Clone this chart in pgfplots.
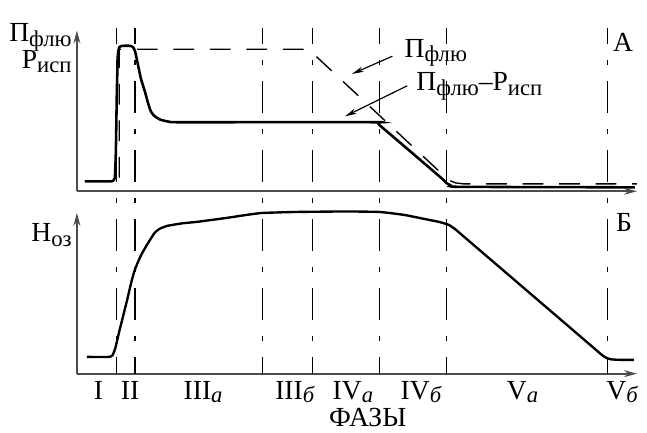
\documentclass[border=0pt]{standalone}
\usepackage{fontspec}
\setmainfont{Liberation Serif}
\usepackage{pgfplots}
\pgfplotsset{compat=1.18}
\usetikzlibrary{arrows.meta}

\newcommand\lo[1]{\raisebox{-0.38ex}{\fontsize{11.5}{12}\selectfont #1}}
\newcommand\ti[1]{\raisebox{-0.22ex}{\fontsize{11.5}{12}\selectfont\itshape #1}}
\definecolor{axgray}{gray}{0.3}

\pgfplotsset{
  panel/.style={
    x=0.5pt, y=0.5pt, xmin=78, xmax=646, ymin=0, ymax=163,
    axis lines=left, enlargelimits=false, clip=false,
    axis line style={axgray, line width=1pt, -{Stealth[length=6.5pt,width=3.5pt]}},
    ytick=\empty, major tick length=0pt, anchor=south west,
  },
  phase/.style={black, line width=0.7pt,
    dash pattern=on 16.5pt off 8pt on 2.5pt off 8pt, dash phase=8pt},
  curve/.style={black, line width=1.3pt, smooth, tension=0.3},
}

\begin{document}
\fontsize{14}{16}\selectfont
\begin{tikzpicture}

% lower panel: H_oz
\begin{axis}[panel, at={(0,0)},
  xtick={100,132,206,299,358,427,530,631},
  xticklabels={I, II, III\ti{a}, III\ti{б}, IV\ti{a}, IV\ti{б}, V\ti{a}, V\ti{б}},
  xticklabel style={anchor=base, yshift=-13pt},
]
\path (axis cs:0,-60) rectangle (axis cs:647,379);
% phase borders, running through both panels
\addplot[phase] coordinates {(118,351) (118,0)};
\addplot[phase] coordinates {(137,351) (137,0)};
\addplot[phase] coordinates {(266,351) (266,0)};
\addplot[phase] coordinates {(317,351) (317,0)};
\addplot[phase] coordinates {(385,351) (385,0)};
\addplot[phase] coordinates {(453,351) (453,0)};
\addplot[phase] coordinates {(616,351) (616,0)};

\addplot[curve, line width=1.2pt] coordinates {
  (88,17) (110,17) (114,18.5) (117,26) (121,43) (125,59) (129,75) (133,92)
  (136,103) (139,111) (143,120) (148,129) (153,137) (157,143) (162,147)
  (170,150) (185,152.5) (200,154) (230,158) (250,161) (266,163) (300,164)
  (350,164.5) (385,164) (410,161) (430,157) (445,154) (455,151) (461,147)
  (467,142) (600,28) (608,21) (614,16.5) (620,14.5) (630,14) (643,14)};

\node[anchor=base east, inner sep=0pt] at (axis cs:73,134) {Н\lo{оз}};
\node[anchor=base, inner sep=0pt] at (axis cs:633,144) {Б};
\node[anchor=base, inner sep=0pt] at (axis cs:373,-54) {ФАЗЫ};
\end{axis}

% upper panel: П_флю and П_флю - Р_исп
\begin{axis}[panel, at={(0,92.5pt)}, xtick=\empty]
% П_флю
\addplot[black, line width=0.7pt, dash pattern=on 10.5pt off 8pt] coordinates {
  (86,10.5) (119,10.5) (121,14) (121,144) (313,144) (450,16) (456,11)
  (462,8.5) (470,7.5) (646,7.5)};
% П_флю - Р_исп
\addplot[curve] coordinates {
  (86,10) (112,10) (115,11) (116.5,14) (117.5,40) (118.5,100) (119.5,138)
  (121,146) (124,147.5) (132,147.5) (135,146) (137,142) (140,128) (143,114)
  (147,101) (150,90) (153,81) (157,76) (163,72.5) (172,70.5) (185,70)
  (380,70) (385,67) (447,14) (452,9) (457,6) (466,4.5) (644,4)};

\node[anchor=base east, inner sep=0pt] at (axis cs:73,152) {П\lo{флю}};
\node[anchor=base east, inner sep=0pt] at (axis cs:73,125) {Р\lo{исп}};
\node[anchor=base, inner sep=0pt] at (axis cs:632,142) {А};
\node[anchor=base west, inner sep=0pt] at (axis cs:410,136) {П\lo{флю}};
\node[anchor=base west, inner sep=0pt] at (axis cs:422,102) {П\lo{флю}–Р\lo{исп}};
\draw[line width=0.6pt, -{Stealth[length=6pt,width=2.8pt]}]
  (axis cs:398,137) -- (axis cs:357,119);
\draw[line width=0.6pt, -{Stealth[length=6pt,width=2.8pt]}]
  (axis cs:413,107) -- (axis cs:350,76);
\end{axis}

\end{tikzpicture}
\end{document}
